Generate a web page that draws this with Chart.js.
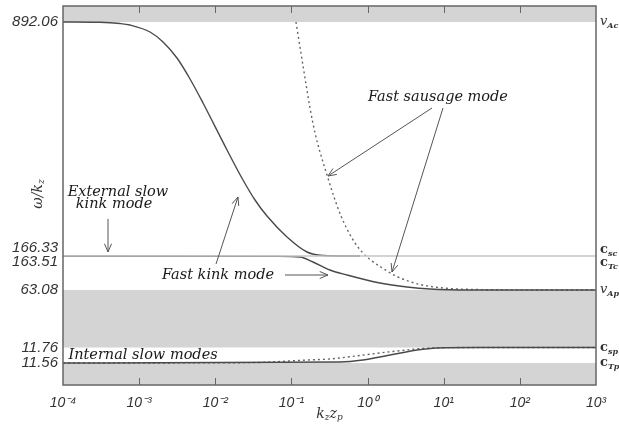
<!DOCTYPE html>
<html lang="en">
<head>
<meta charset="UTF-8">
<title>Dispersion diagram</title>
<script src="https://cdn.jsdelivr.net/npm/chart.js"></script>
<style>
  html, body { margin: 0; padding: 0; background: #fff; }
  #wrap { width: 619px; height: 425px; }
</style>
</head>
<body>
<div id="wrap"><canvas id="chart"></canvas></div>
<script>
// characteristic speeds shown on the y axis
const speeds = [11.56, 11.76, 63.08, 163.51, 166.33, 892.06];
const speedNames = [['c', 'Tp'], ['c', 'sp'], ['v', 'Ap'], ['c', 'Tc'], ['c', 'sc'], ['v', 'Ac']];
const xDecades = [1e-4, 1e-3, 1e-2, 1e-1, 1e0, 1e1, 1e2, 1e3];

// fast kink mode
const kzFastKink = [1e-4, 3.06e-4, 5.61e-4, 7.59e-4, 1.39e-3, 2.06e-3, 3.14e-3, 4.66e-3, 6.90e-3, 0.01426, 0.02312, 0.03323, 0.04777, 0.0875, 0.1602, 0.2373, 0.4345, 0.7956];
const wFastKink = [892.06, 891.1, 887.4, 882.8, 861.0, 830.0, 780.4, 715.3, 640.8, 495.1, 402.0, 340.0, 290.4, 225.3, 178.7, 168.5, 166.4, 166.33];

// external slow kink mode (drops to v_Ap)
const kzExtSlow = [1e-4, 0.0708, 0.1297, 0.192, 0.321, 0.537, 1.455, 3.30, 6.61, 22.1, 1e3];
const wExtSlow = [165.9, 165.8, 164.9, 150.9, 125.8, 110.1, 85.0, 72.5, 66.2, 63.2, 63.08];

// fast sausage mode
const kzSausage = [0.1148, 0.1463, 0.1754, 0.2040, 0.2373, 0.2933, 0.3624, 0.4478, 0.5535, 0.6840, 0.8453, 1.0765, 1.4568, 2.436, 4.884, 11.05, 22.16, 100.5, 1e3];
const wSausage = [892.06, 737.0, 625.3, 547.8, 488.9, 417.5, 349.3, 290.4, 243.9, 206.6, 178.7, 158.8, 136.8, 105.4, 80.3, 68.4, 65.0, 63.4, 63.08];

// internal slow modes
const kzSlowKink = [1e-4, 0.435, 0.871, 1.97, 4.46, 8.17, 30, 1e3];
const wSlowKink = [11.56, 11.573, 11.599, 11.663, 11.728, 11.754, 11.76, 11.76];
const kzSlowSausage = [1e-4, 0.0286, 0.16, 0.32, 0.871, 2.44, 6.6, 30, 1e3];
const wSlowSausage = [11.56, 11.565, 11.599, 11.612, 11.663, 11.715, 11.754, 11.76, 11.76];

// schematic (broken) y axis: where each speed sits, as a fraction of the plot height
const axisValues = [11.30, 11.56, 11.76, 63.08, 163.51, 166.33, 892.06, 960];
const axisFractions = [0, 0.058, 0.0989, 0.2507, 0.3351, 0.3404, 0.9578, 1];
const labelShift = { 166.33: -8, 163.51: 4 };
const rightShift = { 166.33: -6, 163.51: 5 };

const annotations = [
  { text: 'External slow', x: 5.27e-4, y: 364.8 },
  { text: 'kink mode', x: 4.68e-4, y: 327.6 },
  { text: 'Fast kink mode', x: 0.01087, y: 110.1 },
  { text: 'Fast sausage mode', x: 8.41, y: 659.4 },
  { text: 'Internal slow modes', x: 1.125e-3, y: 11.663 }
];
const arrows = [
  { from: [3.9e-4, 281.1], to: [3.9e-4, 178.7] },
  { from: [0.01022, 144.7], to: [0.01987, 349.3] },
  { from: [0.0823, 110.1], to: [0.3023, 110.1] },
  { from: [7.02, 625.3], to: [0.302, 414.4] },
  { from: [9.79, 625.3], to: [2.094, 119.6] }
];

const pts = (xs, ys) => xs.map((x, i) => ({ x: x, y: ys[i] }));
const sup = n => String(n).split('').map(c => ({ '-': '⁻', '0': '⁰', '1': '¹', '2': '²', '3': '³', '4': '⁴' })[c]).join('');

class SchematicScale extends Chart.LinearScale {
  determineDataLimits() {
    this.min = axisValues[0];
    this.max = axisValues[axisValues.length - 1];
  }
  buildTicks() {
    return speeds.map(v => ({ value: v }));
  }
  getPixelForValue(value) {
    const v = axisValues, f = axisFractions;
    let i = 0;
    while (i < v.length - 2 && value > v[i + 1]) i++;
    const t = (value - v[i]) / (v[i + 1] - v[i]);
    return this.getPixelForDecimal(f[i] + t * (f[i + 1] - f[i]));
  }
  getValueForPixel(pixel) {
    const d = this.getDecimalForPixel(pixel), v = axisValues, f = axisFractions;
    let i = 0;
    while (i < f.length - 2 && d > f[i + 1]) i++;
    return v[i] + (d - f[i]) / (f[i + 1] - f[i]) * (v[i + 1] - v[i]);
  }
  getPixelForTick(index) {
    const t = this.ticks[index];
    return this.getPixelForValue(t.value) + (labelShift[t.value] || 0);
  }
}
SchematicScale.id = 'schematic';
SchematicScale.defaults = {};
Chart.register(SchematicScale);

const band = (ys, fill) => ({
  data: pts([1e-4, 1e3], ys), fill: fill, backgroundColor: '#d4d4d4',
  borderWidth: 0, pointRadius: 0, order: 10
});
const curve = (xs, ys, color, dash) => ({
  data: pts(xs, ys), fill: false, borderColor: color, borderWidth: 1.4,
  borderDash: dash || [], pointRadius: 0, cubicInterpolationMode: 'monotone', order: 1
});

const serif = '"DejaVu Serif", serif';

const extras = {
  id: 'extras',
  afterDraw(chart) {
    const ctx = chart.ctx, a = chart.chartArea;
    const xs = chart.scales.x, ys = chart.scales.y;
    ctx.save();
    // frame
    ctx.strokeStyle = '#666';
    ctx.lineWidth = 1.5;
    ctx.strokeRect(a.left, a.top, a.right - a.left, a.bottom - a.top);
    // inward decade ticks
    ctx.lineWidth = 1;
    xDecades.slice(1, -1).forEach(v => {
      const px = Math.round(xs.getPixelForValue(v)) + 0.5;
      ctx.beginPath();
      ctx.moveTo(px, a.bottom); ctx.lineTo(px, a.bottom - 7);
      ctx.moveTo(px, a.top); ctx.lineTo(px, a.top + 7);
      ctx.stroke();
    });
    // right-hand speed names with subscripts
    ctx.fillStyle = '#333';
    ctx.textBaseline = 'middle';
    ctx.textAlign = 'left';
    speeds.forEach((v, i) => {
      const py = ys.getPixelForValue(v) + (rightShift[v] || 0);
      const [m, s] = speedNames[i];
      ctx.font = (m === 'v' ? 'italic ' : 'bold ') + '13px ' + serif;
      ctx.fillText(m, a.right + 4, py);
      const w = ctx.measureText(m).width;
      ctx.font = 'bold italic 8px ' + serif;
      ctx.fillText(s, a.right + 4 + w, py + 4);
    });
    // axis titles
    const sub = (parts, x, y) => {
      let total = 0;
      parts.forEach(p => { ctx.font = p[1] ? 'italic 9px ' + serif : 'italic 14px ' + serif; total += ctx.measureText(p[0]).width; });
      let cx = x - total / 2;
      ctx.textAlign = 'left';
      parts.forEach(p => {
        ctx.font = p[1] ? 'italic 9px ' + serif : 'italic 14px ' + serif;
        ctx.fillText(p[0], cx, y + (p[1] ? 4 : 0));
        cx += ctx.measureText(p[0]).width;
      });
    };
    sub([['k', 0], ['z', 1], ['z', 0], ['p', 1]], (a.left + a.right) / 2, 414);
    ctx.save();
    ctx.translate(38, 194);
    ctx.rotate(-Math.PI / 2);
    sub([['ω/k', 0], ['z', 1]], 0, 0);
    ctx.restore();
    // annotations
    ctx.fillStyle = '#1a1a1a';
    ctx.font = 'italic 14.5px ' + serif;
    ctx.textAlign = 'center';
    annotations.forEach(t => ctx.fillText(t.text, xs.getPixelForValue(t.x), ys.getPixelForValue(t.y)));
    ctx.strokeStyle = '#555';
    ctx.lineWidth = 1;
    arrows.forEach(ar => {
      const x0 = xs.getPixelForValue(ar.from[0]), y0 = ys.getPixelForValue(ar.from[1]);
      const x1 = xs.getPixelForValue(ar.to[0]), y1 = ys.getPixelForValue(ar.to[1]);
      const ang = Math.atan2(y1 - y0, x1 - x0);
      ctx.beginPath();
      ctx.moveTo(x0, y0); ctx.lineTo(x1, y1);
      ctx.moveTo(x1 - 9 * Math.cos(ang - 0.4), y1 - 9 * Math.sin(ang - 0.4));
      ctx.lineTo(x1, y1);
      ctx.lineTo(x1 - 9 * Math.cos(ang + 0.4), y1 - 9 * Math.sin(ang + 0.4));
      ctx.stroke();
    });
    ctx.restore();
  }
};

new Chart(document.getElementById('chart'), {
  type: 'line',
  data: {
    datasets: [
      band([892.06, 892.06], 'end'),
      band([63.08, 63.08], { value: 11.76 }),
      band([11.56, 11.56], 'start'),
      curve([1e-4, 1e3], [166.33, 166.33], '#c4c4c4'),
      curve(kzFastKink, wFastKink, '#4a4a4a'),
      curve(kzExtSlow, wExtSlow, '#4a4a4a'),
      curve(kzSausage, wSausage, '#666', [2, 3]),
      curve(kzSlowKink, wSlowKink, '#4a4a4a'),
      curve(kzSlowSausage, wSlowSausage, '#666', [2, 3])
    ]
  },
  options: {
    responsive: true,
    maintainAspectRatio: false,
    animation: false,
    layout: { padding: { top: 6, right: 23, left: 0, bottom: 0 } },
    plugins: { legend: { display: false }, tooltip: { enabled: false } },
    scales: {
      x: {
        type: 'logarithmic', min: 1e-4, max: 1e3,
        afterBuildTicks: s => { s.ticks = xDecades.map(v => ({ value: v })); },
        afterFit: s => { s.height = 40; s.paddingLeft = 0; s.paddingRight = 0; },
        grid: { display: false, drawTicks: false },
        border: { display: false },
        ticks: {
          callback: v => '10' + sup(Math.round(Math.log10(v))),
          font: { family: '"Liberation Sans", sans-serif', style: 'italic', size: 14 },
          color: '#333', padding: 10, maxRotation: 0, autoSkip: false
        }
      },
      y: {
        type: 'schematic',
        afterFit: s => { s.width = 63; s.paddingTop = 0; s.paddingBottom = 0; },
        grid: { display: false, drawTicks: false },
        border: { display: false },
        ticks: {
          callback: v => v.toFixed(2),
          font: { family: '"Liberation Sans", sans-serif', style: 'italic', size: 15 },
          color: '#333', padding: 5, autoSkip: false
        }
      }
    }
  },
  plugins: [extras]
});
</script>
</body>
</html>
